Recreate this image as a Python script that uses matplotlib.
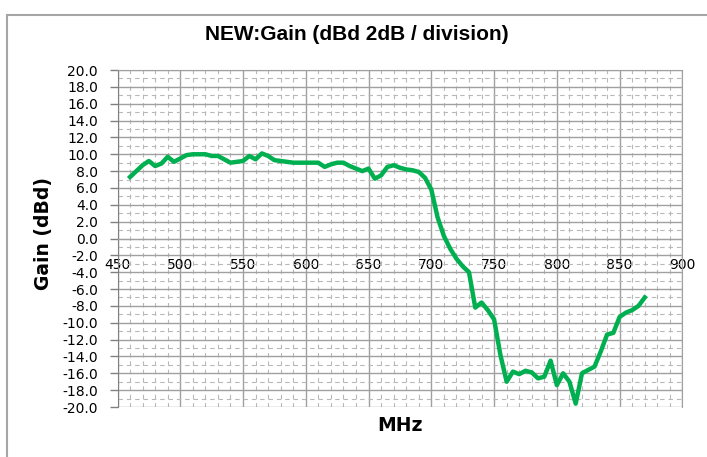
import numpy as np
import matplotlib
matplotlib.use("Agg")
import matplotlib.pyplot as plt
from matplotlib.ticker import MultipleLocator

# measured gain, 5 MHz steps
freq_mhz = list(range(460, 875, 5))
gain_dbd = [
    7.3, 8.0, 8.7, 9.2, 8.6, 8.9, 9.7, 9.1, 9.5, 9.9,
    10.0, 10.0, 10.0, 9.8, 9.8, 9.4, 9.0, 9.1, 9.2, 9.8,
    9.4, 10.1, 9.8, 9.3, 9.2, 9.1, 9.0, 9.0, 9.0, 9.0,
    9.0, 8.5, 8.8, 9.0, 9.0, 8.6, 8.3, 8.0, 8.3, 7.1,
    7.5, 8.5, 8.7, 8.4, 8.2, 8.1, 7.9, 7.2, 5.8, 2.5,
    0.3, -1.2, -2.4, -3.3, -4.0, -8.2, -7.6, -8.5, -9.6, -13.8,
    -17.0, -15.8, -16.1, -15.7, -15.9, -16.6, -16.4, -14.5, -17.4, -16.0,
    -17.0, -19.6, -16.0, -15.6, -15.2, -13.4, -11.4, -11.2, -9.3, -8.8,
    -8.5, -8.0, -7.0,
]
x_ticks = list(range(450, 950, 50))
y_ticks = list(range(-20, 22, 2))

grid_major = "#a0a0a0"
grid_minor = "#b8b8b8"

fig = plt.figure(figsize=(7.07, 4.57), dpi=100)
ax = fig.add_axes([0.1662, 0.1094, 0.799, 0.7374])

ax.plot(freq_mhz, gain_dbd, color="#00b050", linewidth=3.2, solid_joinstyle="round", zorder=3)

ax.set_xlim(450, 900)
ax.set_ylim(-20, 20)
ax.set_xticks(x_ticks)
ax.set_yticks(y_ticks)
ax.set_yticklabels([f"{v:.1f}" for v in y_ticks])
ax.xaxis.set_minor_locator(MultipleLocator(10))
ax.yaxis.set_minor_locator(MultipleLocator(1))

# grid: solid major, dashed minor
ax.grid(which="major", color=grid_major, linewidth=1.0, zorder=1)
ax.grid(which="minor", color=grid_minor, linewidth=0.8, linestyle=(0, (4, 3.5)), zorder=1)
ax.set_axisbelow(True)

# x axis crosses at 0 dBd
ax.spines["bottom"].set_position(("data", 0))
for side in ["top", "right", "bottom"]:
    ax.spines[side].set_color(grid_major)
ax.spines["left"].set_color("#808080")

ax.tick_params(axis="x", which="both", length=0, pad=14, labelsize=10, colors="#404040", labelcolor="black")
ax.tick_params(axis="y", which="major", length=6, width=1, pad=8, labelsize=10, color="#808080")
ax.tick_params(axis="y", which="minor", length=0)

fig.text(0.504, 0.925, "NEW:Gain (dBd 2dB / division)", ha="center", va="center",
         fontsize=15, fontweight="bold", family="Liberation Sans")
fig.text(0.062, 0.488, "Gain (dBd)", rotation=90, ha="center", va="center",
         fontsize=13.5, fontweight="bold")
fig.text(0.566, 0.07, "MHz", ha="center", va="center", fontsize=13.5, fontweight="bold")

# chart border like the spreadsheet frame
fig.add_artist(plt.Line2D([0.0099, 0.0099], [0.0, 0.967], color="#a6a6a6", linewidth=1.5))
fig.add_artist(plt.Line2D([0.0099, 1.0], [0.967, 0.967], color="#a6a6a6", linewidth=1.5))

plt.savefig("out.png", dpi=100)
